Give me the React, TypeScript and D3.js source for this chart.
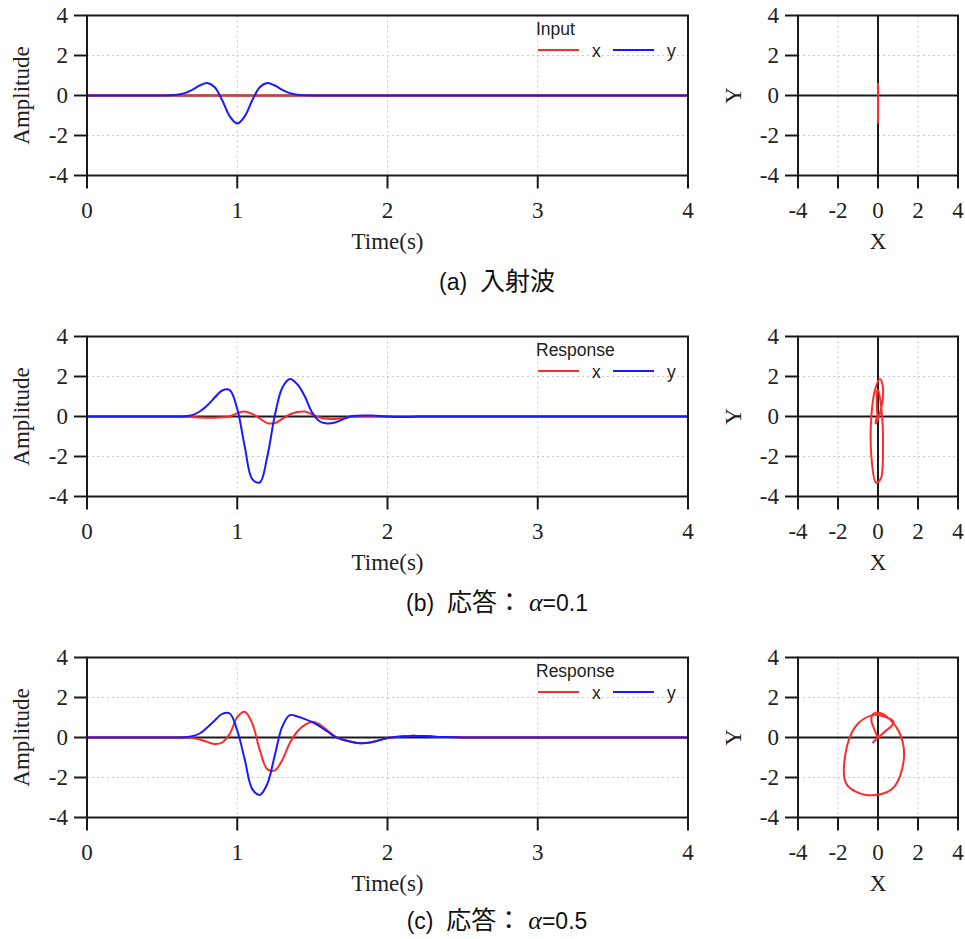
import React from "react";
import * as d3 from "d3";

// Sampling times (s) shared by every series
const TIMES = [0, 0.5, 0.55, 0.6, 0.65, 0.7, 0.75, 0.8, 0.85, 0.9, 0.95, 1.0, 1.05, 1.1, 1.15, 1.2, 1.25, 1.3, 1.35, 1.4, 1.45, 1.5, 1.55, 1.6, 1.65, 1.7, 1.75, 1.8, 1.85, 1.9, 1.95, 2.0, 2.05, 2.1, 2.15, 2.2, 2.25, 2.3, 2.35, 2.4, 2.45, 2.5, 4];

// (a) Input
const INPUT_X = [0, 0, 0, 0, 0, 0, 0, 0, 0, 0, 0, 0, 0, 0, 0, 0, 0, 0, 0, 0, 0, 0, 0, 0, 0, 0, 0, 0, 0, 0, 0, 0, 0, 0, 0, 0, 0, 0, 0, 0, 0, 0, 0];
const INPUT_Y = [0, 0, 0.01, 0.04, 0.12, 0.28, 0.5, 0.62, 0.41, -0.24, -1.04, -1.4, -1.04, -0.24, 0.41, 0.62, 0.5, 0.28, 0.12, 0.04, 0.01, 0, 0, 0, 0, 0, 0, 0, 0, 0, 0, 0, 0, 0, 0, 0, 0, 0, 0, 0, 0, 0, 0];

// (b) Response alpha = 0.1
const RESP1_X = [0, 0, 0, 0, 0, -0.02, -0.05, -0.06, -0.06, -0.04, 0.0, 0.17, 0.25, 0.13, -0.1, -0.33, -0.33, -0.12, 0.1, 0.22, 0.25, 0.1, -0.05, -0.11, -0.12, -0.09, -0.03, 0.0, 0.02, 0.02, 0.01, 0, 0, 0, 0, 0, 0, 0, 0, 0, 0, 0, 0];
const RESP1_Y = [0, 0, 0, 0, 0.01, 0.07, 0.25, 0.55, 0.95, 1.3, 1.32, 0.38, -1.5, -3.13, -3.3, -2.0, 0.05, 1.44, 1.87, 1.61, 1.0, 0.18, -0.25, -0.35, -0.3, -0.15, 0.0, 0.04, 0.05, 0.05, 0.03, 0.0, -0.02, -0.03, -0.02, 0, 0, 0, 0, 0, 0, 0, 0];

// (c) Response alpha = 0.5
const RESP5_X = [0, 0, 0, 0, 0, -0.03, -0.1, -0.22, -0.33, -0.25, 0.18, 1.02, 1.29, 0.7, -0.62, -1.58, -1.64, -1.12, -0.27, 0.3, 0.63, 0.79, 0.65, 0.35, 0.06, -0.1, -0.2, -0.27, -0.28, -0.23, -0.13, -0.03, 0.03, 0.06, 0.08, 0.08, 0.07, 0.05, 0.03, 0.02, 0.01, 0, 0];
const RESP5_Y = [0, 0, 0, 0, 0.01, 0.06, 0.2, 0.5, 0.85, 1.18, 1.2, 0.35, -1.1, -2.58, -2.87, -2.32, -0.89, 0.56, 1.12, 1.05, 0.92, 0.77, 0.55, 0.3, 0.04, -0.1, -0.2, -0.27, -0.28, -0.23, -0.13, -0.03, 0.03, 0.06, 0.08, 0.08, 0.07, 0.05, 0.03, 0.02, 0.01, 0, 0];

const TIME_TICKS = [0, 1, 2, 3, 4];
const AMP_TICKS = [-4, -2, 0, 2, 4];
const XY_TICKS = [-4, -2, 0, 2, 4];
const GRID_T = [1, 2, 3];
const GRID_V = [-2, 2];

const RED = "#ff2a2a";
const BLUE = "#1a1aff";
const AXIS = "#1a1a1a";
const SERIF = "'Liberation Serif', 'Times New Roman', serif";
const LEG = "'Liberation Sans', Arial, sans-serif";
const SANS = "'Liberation Sans', Arial, sans-serif";
const CJK = "'Noto Sans CJK JP', sans-serif";

const TOP = 15.5;
const H = 160;
const T_LEFT = 87;
const T_RIGHT = 688;
const XY_LEFT = 798;
const XY_RIGHT = 958;
const FS = 23;

function TimePanel({ offset, xs, ys, title }: { offset: number; xs: number[]; ys: number[]; title: string }) {
  const top = TOP + offset;
  const bottom = top + H;
  const tx = d3.scaleLinear().domain([0, 4]).range([T_LEFT, T_RIGHT]);
  const ay = d3.scaleLinear().domain([-4, 4]).range([bottom, top]);
  const line = (vals: number[]) =>
    d3
      .line<number>()
      .x((_, i) => tx(TIMES[i]))
      .y((d) => ay(d))
      .curve(d3.curveCatmullRom.alpha(0.5))(vals) || "";
  const legX = 538;
  const legY = top + 34.5;
  return (
    <g>
      {GRID_T.map((t) => (
        <line key={"gt" + t} x1={tx(t)} x2={tx(t)} y1={top} y2={bottom} stroke="#c8c8c8" strokeWidth={1} strokeDasharray="2,3" />
      ))}
      {GRID_V.map((v) => (
        <line key={"gv" + v} x1={T_LEFT} x2={T_RIGHT} y1={ay(v)} y2={ay(v)} stroke="#c8c8c8" strokeWidth={1} strokeDasharray="2,3" />
      ))}
      <line x1={T_LEFT} x2={T_RIGHT} y1={ay(0)} y2={ay(0)} stroke={AXIS} strokeWidth={2} />
      <path d={line(xs)} fill="none" stroke={RED} strokeWidth={2} />
      <path d={line(ys)} fill="none" stroke={BLUE} strokeWidth={2} />
      <rect x={T_LEFT} y={top} width={T_RIGHT - T_LEFT} height={H} fill="none" stroke={AXIS} strokeWidth={2} />
      {AMP_TICKS.map((v) => (
        <g key={"at" + v}>
          <line x1={T_LEFT - 13} x2={T_LEFT} y1={ay(v)} y2={ay(v)} stroke={AXIS} strokeWidth={2} />
          <text x={T_LEFT - 19} y={ay(v)} dy="0.34em" textAnchor="end" fontFamily={SERIF} fontSize={FS} fill="#222">
            {v}
          </text>
        </g>
      ))}
      {TIME_TICKS.map((t) => (
        <g key={"tt" + t}>
          <line x1={tx(t)} x2={tx(t)} y1={bottom} y2={bottom + 13} stroke={AXIS} strokeWidth={2} />
          <text x={tx(t)} y={bottom + 42} textAnchor="middle" fontFamily={SERIF} fontSize={FS} fill="#222">
            {t}
          </text>
        </g>
      ))}
      <text x={(T_LEFT + T_RIGHT) / 2} y={bottom + 73} textAnchor="middle" fontFamily={SERIF} fontSize={FS} fill="#222">
        Time(s)
      </text>
      <text transform={`translate(29,${(top + bottom) / 2}) rotate(-90)`} textAnchor="middle" fontFamily={SERIF} fontSize={FS} fill="#222">
        Amplitude
      </text>
      <text x={legX - 2} y={top + 19.5} fontFamily={LEG} fontSize={17.5} fill="#222">
        {title}
      </text>
      <line x1={legX} x2={legX + 41} y1={legY} y2={legY} stroke={RED} strokeWidth={2} />
      <text x={legX + 54} y={legY + 6.5} fontFamily={LEG} fontSize={17.5} fill="#222">
        x
      </text>
      <line x1={legX + 75} x2={legX + 116} y1={legY} y2={legY} stroke={BLUE} strokeWidth={2} />
      <text x={legX + 129} y={legY + 6.5} fontFamily={LEG} fontSize={17.5} fill="#222">
        y
      </text>
    </g>
  );
}

function XYPanel({ offset, xs, ys }: { offset: number; xs: number[]; ys: number[] }) {
  const top = TOP + offset;
  const bottom = top + H;
  const sx = d3.scaleLinear().domain([-4, 4]).range([XY_LEFT, XY_RIGHT]);
  const sy = d3.scaleLinear().domain([-4, 4]).range([bottom, top]);
  const path =
    d3
      .line<number>()
      .x((i) => sx(xs[i]))
      .y((i) => sy(ys[i]))
      .curve(d3.curveCatmullRom.alpha(0.5))(d3.range(1, TIMES.length - 1)) || "";
  return (
    <g>
      {GRID_V.map((v) => (
        <g key={"g" + v}>
          <line x1={sx(v)} x2={sx(v)} y1={top} y2={bottom} stroke="#c8c8c8" strokeWidth={1} strokeDasharray="2,3" />
          <line x1={XY_LEFT} x2={XY_RIGHT} y1={sy(v)} y2={sy(v)} stroke="#c8c8c8" strokeWidth={1} strokeDasharray="2,3" />
        </g>
      ))}
      <line x1={sx(0)} x2={sx(0)} y1={top} y2={bottom} stroke={AXIS} strokeWidth={2} />
      <line x1={XY_LEFT} x2={XY_RIGHT} y1={sy(0)} y2={sy(0)} stroke={AXIS} strokeWidth={2} />
      <path d={path} fill="none" stroke={RED} strokeWidth={2} />
      <rect x={XY_LEFT} y={top} width={XY_RIGHT - XY_LEFT} height={H} fill="none" stroke={AXIS} strokeWidth={2} />
      {XY_TICKS.map((v) => (
        <g key={"t" + v}>
          <line x1={XY_LEFT - 13} x2={XY_LEFT} y1={sy(v)} y2={sy(v)} stroke={AXIS} strokeWidth={2} />
          <text x={XY_LEFT - 19} y={sy(v)} dy="0.34em" textAnchor="end" fontFamily={SERIF} fontSize={FS} fill="#222">
            {v}
          </text>
          <line x1={sx(v)} x2={sx(v)} y1={bottom} y2={bottom + 13} stroke={AXIS} strokeWidth={2} />
          <text x={sx(v)} y={bottom + 42} textAnchor="middle" fontFamily={SERIF} fontSize={FS} fill="#222">
            {v}
          </text>
        </g>
      ))}
      <text x={(XY_LEFT + XY_RIGHT) / 2} y={bottom + 73} textAnchor="middle" fontFamily={SERIF} fontSize={FS} fill="#222">
        X
      </text>
      <text transform={`translate(741,${(top + bottom) / 2}) rotate(-90)`} textAnchor="middle" fontFamily={SERIF} fontSize={FS} fill="#222">
        Y
      </text>
    </g>
  );
}

function Caption({ y, label, text, alpha }: { y: number; label: string; text: string; alpha?: string }) {
  return (
    <text x={497} y={y} textAnchor="middle" fontFamily={SANS} fontSize={23} fill="#111">
      {label + "\u00a0\u00a0"}
      <tspan fontFamily={CJK} fontSize={25}>{text}</tspan>
      {alpha !== undefined && (
        <>
          <tspan dx={7} fontFamily={SERIF} fontStyle="italic" fontSize={26}>α</tspan>
          <tspan>{"=" + alpha}</tspan>
        </>
      )}
    </text>
  );
}

export default function App() {
  return (
    <svg width={965} height={939} style={{ position: "absolute", left: 0, top: 0, background: "#fff" }}>
      <rect x={0} y={0} width={965} height={939} fill="#fff" />
      <TimePanel offset={0} xs={INPUT_X} ys={INPUT_Y} title="Input" />
      <XYPanel offset={0} xs={INPUT_X} ys={INPUT_Y} />
      <Caption y={290} label="(a)" text="入射波" />
      <TimePanel offset={321} xs={RESP1_X} ys={RESP1_Y} title="Response" />
      <XYPanel offset={321} xs={RESP1_X} ys={RESP1_Y} />
      <Caption y={611} label="(b)" text="応答：" alpha="0.1" />
      <TimePanel offset={642} xs={RESP5_X} ys={RESP5_Y} title="Response" />
      <XYPanel offset={642} xs={RESP5_X} ys={RESP5_Y} />
      <Caption y={929} label="(c)" text="応答：" alpha="0.5" />
    </svg>
  );
}
